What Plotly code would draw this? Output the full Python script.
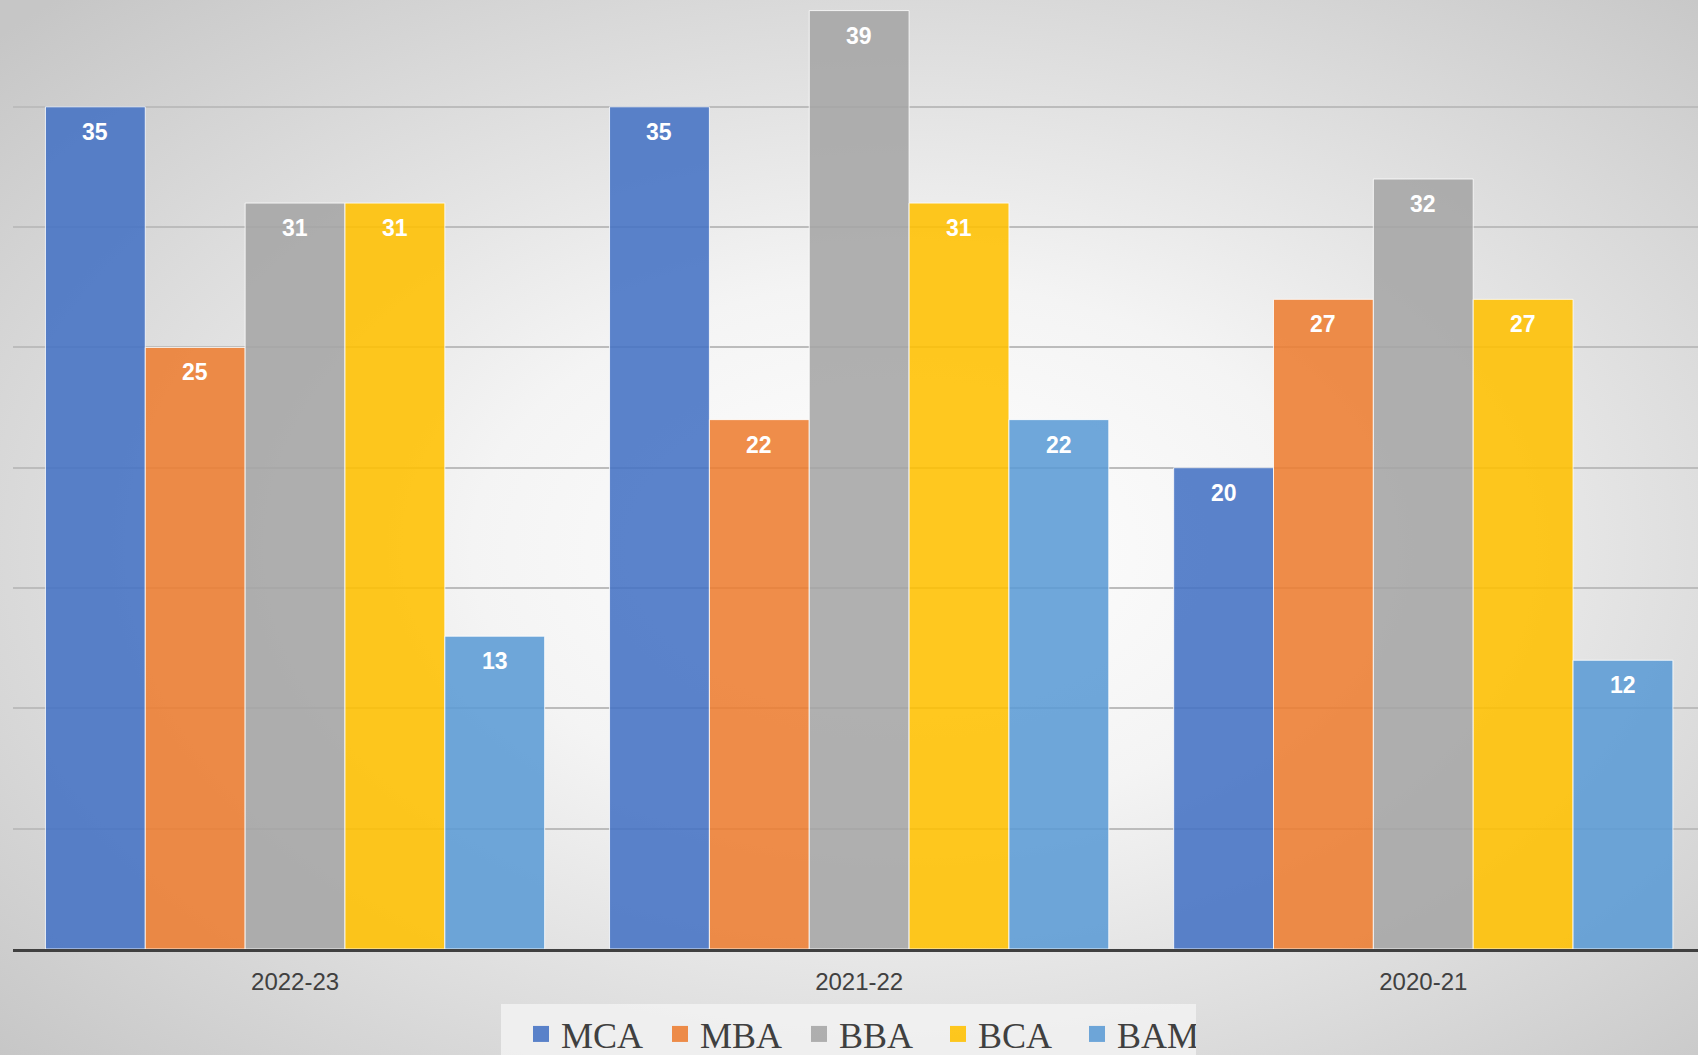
import base64
import plotly.graph_objects as go

years = ["2022-23", "2021-22", "2020-21"]
MCA = [35, 35, 20]
MBA = [25, 22, 27]
BBA = [31, 39, 32]
BCA = [31, 31, 27]
BAM = [13, 22, 12]

series = [
    ("MCA", MCA, "rgba(68,114,196,0.88)"),
    ("MBA", MBA, "rgba(237,125,49,0.88)"),
    ("BBA", BBA, "rgba(165,165,165,0.88)"),
    ("BCA", BCA, "rgba(255,192,0,0.88)"),
    ("BAM", BAM, "rgba(91,155,213,0.88)"),
]

W, H = 1698, 1055
ML, MR, MT, MB = 13, 0, 0, 106
PW, PH = W - ML - MR, H - MT - MB
BARGAP = 0.115

svg = f"""<svg xmlns='http://www.w3.org/2000/svg' width='{W}' height='{H}' viewBox='0 0 {W} {H}' preserveAspectRatio='none'>
<defs><radialGradient id='g' cx='0.53' cy='0.52' r='0.72'>
<stop offset='0' stop-color='#ffffff'/><stop offset='0.35' stop-color='#f4f4f4'/><stop offset='1' stop-color='#c6c6c6'/>
</radialGradient></defs><rect width='{W}' height='{H}' fill='url(#g)'/></svg>"""
bg_uri = "data:image/svg+xml;base64," + base64.b64encode(svg.encode()).decode()

fig = go.Figure()
n = len(series)
bw = (1 - BARGAP) / n
annotations = []
for i, (name, vals, col) in enumerate(series):
    fig.add_trace(go.Bar(
        x=years, y=vals, name=name, showlegend=False,
        marker=dict(color=col, line=dict(color="rgba(255,255,255,0.8)", width=1)),
        hoverinfo="x+y+name",
    ))
    # legend proxy with larger square symbol
    fig.add_trace(go.Scatter(
        x=[None], y=[None], mode="markers", name=name,
        marker=dict(symbol="square", size=16, color=col),
        showlegend=True, hoverinfo="skip",
    ))
    for j, v in enumerate(vals):
        annotations.append(dict(
            x=j + (i - (n - 1) / 2) * bw, y=v, xref="x", yref="y",
            text=f"<b>{v}</b>", showarrow=False, yanchor="middle", yshift=-25,
            font=dict(family="Liberation Sans, Arial", size=23, color="white"),
        ))

fig.update_layout(
    width=W, height=H,
    margin=dict(l=ML, r=MR, t=MT, b=MB, pad=0, autoexpand=False),
    barmode="group", bargap=BARGAP, bargroupgap=0,
    paper_bgcolor="#d8d8d8", plot_bgcolor="rgba(0,0,0,0)",
    showlegend=True,
    legend=dict(
        orientation="h", x=0.2896, xanchor="left", y=-0.058, yanchor="top",
        font=dict(family="Liberation Serif, Times New Roman", size=36, color="#404040"),
        bgcolor="rgba(242,242,242,0.85)", borderwidth=0,
        entrywidth=74, entrywidthmode="pixels", indentation=20,
        itemclick=False, itemdoubleclick=False,
    ),
    annotations=annotations,
    images=[dict(
        source=bg_uri, xref="paper", yref="paper",
        x=-ML / PW, y=1 + MT / PH, sizex=W / PW, sizey=H / PH,
        xanchor="left", yanchor="top", sizing="stretch", layer="below",
    )],
    xaxis=dict(
        range=[-0.5, 2.487], showgrid=False, showline=True,
        linecolor="#404040", linewidth=3, ticks="",
        tickfont=dict(family="Liberation Sans, Arial", size=24, color="#404040"),
        ticklabelstandoff=9,
    ),
    yaxis=dict(
        range=[0, 39.44], dtick=5, showgrid=True, gridcolor="#bcbcbc", gridwidth=1.5,
        showticklabels=False, zeroline=False, ticks="",
    ),
)

fig.write_html("out.html")
